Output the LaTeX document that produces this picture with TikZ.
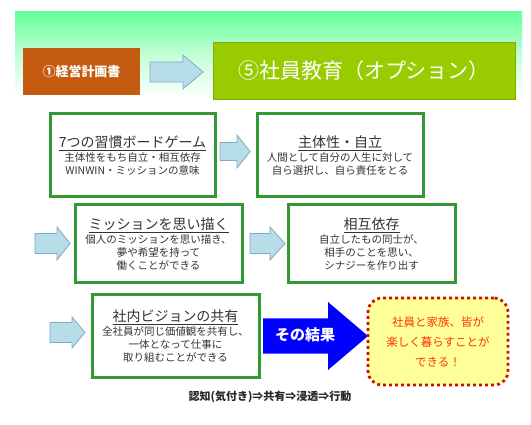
\documentclass[tikz,border=0pt]{standalone}
\usepackage{fontspec}
\setmainfont{Noto Sans CJK JP}
\usetikzlibrary{shapes.geometric}
\definecolor{orangebox}{HTML}{C55A11}
\definecolor{limebox}{HTML}{99CC00}
\definecolor{bandgreen}{HTML}{66FF99}
\definecolor{boxgreen}{HTML}{339933}
\definecolor{arrowfill}{HTML}{B7DDE8}
\definecolor{arrowline}{HTML}{7FA9C4}
\definecolor{dotred}{HTML}{CC1100}
\definecolor{yellowfill}{HTML}{FFFF99}
\definecolor{redtext}{HTML}{FF3300}
\definecolor{bodytext}{HTML}{333333}
\newcommand\barrow[7]{%
  \draw[#1] (#2,{#5-#6}) -- (#3,{#5-#6}) -- (#3,{#5-#7}) -- (#4,#5) -- (#3,{#5+#7}) -- (#3,{#5+#6}) -- (#2,{#5+#6}) -- cycle;}
\tikzset{
  stepbox/.style={draw=boxgreen, line width=3pt, fill=white, align=center, text=bodytext, font=\fontsize{10.5}{13}\selectfont, inner sep=0pt},
  lightarrow/.style={fill=arrowfill, draw=arrowline, line width=0.8pt, line join=miter},
  bluearrow/.style={fill=blue, draw=none}
}
\newcommand\boxtitle[1]{{\fontsize{14}{18}\selectfont\underline{#1}}\\[1pt]}
\begin{document}
\begin{tikzpicture}[x=1pt,y=-1pt]
\useasboundingbox (0,0) rectangle (531,425);
\fill[white] (0,0) rectangle (531,425);
% top band
\shade[top color=bandgreen, bottom color=white, middle color=bandgreen!40] (15,12) rectangle (522,98);
% orange box
\node[fill=orangebox, minimum width=117pt, minimum height=47pt, text=white, font=\fontsize{13}{15}\selectfont\bfseries] (plan) at (81.5,71.5) {①経営計画書};
% green title box
\node[fill=limebox, draw=limebox!85!black, line width=0.5pt, minimum width=302pt, minimum height=57pt, text=white, font=\fontsize{21}{25}\selectfont] (edu) at (364,70.5) {⑤社員教育（オプション）};
\barrow{lightarrow}{150}{183}{203}{72}{10}{17}
% row 1
\node[stepbox, minimum width=165pt, minimum height=83pt] (game) at (132.5,155.5) {\boxtitle{7つの習慣ボードゲーム}主体性をもち自立・相互依存\\WINWIN・ミッションの意味};
\node[stepbox, minimum width=166pt, minimum height=83pt] (indep) at (340,155.5) {\boxtitle{主体性・自立}人間として自分の人生に対して\\自ら選択し、自ら責任をとる};
\barrow{lightarrow}{220}{237}{250}{151.5}{9}{16.5}
% row 2
\barrow{lightarrow}{35}{57}{70}{243.5}{10}{16.5}
\node[stepbox, minimum width=167pt, minimum height=78pt] (mission) at (158.5,244) {\boxtitle{ミッションを思い描く}個人のミッションを思い描き、\\夢や希望を持って\\働くことができる};
\barrow{lightarrow}{250}{270}{285}{243.5}{10}{16.5}
\node[stepbox, minimum width=167pt, minimum height=78pt] (inter) at (371.5,244) {\boxtitle{相互依存}自立したもの同士が、\\相手のことを思い、\\シナジーを作り出す};
% row 3
\barrow{lightarrow}{50}{72}{85}{332.5}{10}{15.5}
\node[stepbox, minimum width=167pt, minimum height=82pt] (vision) at (175.5,336) {\boxtitle{社内ビジョンの共有}全社員が同じ価値観を共有し、\\一体となって仕事に\\取り組むことができる};
\barrow{bluearrow}{263}{328}{368}{336}{17.5}{34}
\node[text=white, font=\fontsize{15}{18}\selectfont\bfseries] (result) at (305,335) {その結果};
\node[draw=dotred, fill=yellowfill, line width=2.8pt, dash pattern=on 2.8pt off 3.2pt, rounded corners=14pt, minimum width=140pt, minimum height=87pt, align=center, text=redtext, font=\fontsize{11.5}{20}\selectfont] (goal) at (438,341.5) {社員と家族、皆が\\楽しく暮らすことが\\できる！};
\node[font=\fontsize{11}{13}\selectfont\bfseries, text=black!85] (flow) at (270,397) {認知(気付き)⇒共有⇒浸透⇒行動};
\end{tikzpicture}
\end{document}
